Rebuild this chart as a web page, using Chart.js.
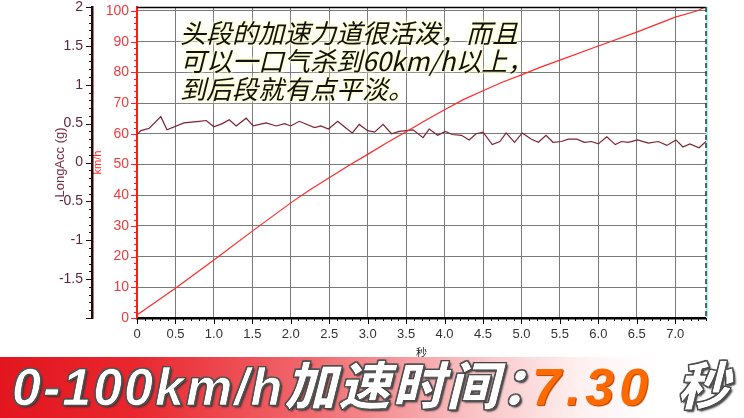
<!DOCTYPE html>
<html><head><meta charset="utf-8">
<script src="https://cdn.jsdelivr.net/npm/chart.js@4/dist/chart.umd.min.js"></script>
<style>
html,body{margin:0;padding:0;background:#fff;}
#wrap{position:relative;width:744px;height:418px;overflow:hidden;background:#fff;}
#c{position:absolute;left:0;top:0;}
#note{position:absolute;left:180px;top:18px;font-family:"Noto Sans CJK SC",sans-serif;font-size:26px;line-height:28px;color:#111;font-style:italic;white-space:nowrap;
 text-shadow:0 0 3px #ffffc8,0 0 3px #ffffc8,0 0 6px #ffffd8,0 0 6px #ffffd8;}
#banner{position:absolute;left:0;top:357px;width:744px;height:61px;
 background:linear-gradient(to right,#e3161f 0%,#e9262e 18%,#f06a6f 42%,#f9c4c6 64%,#fff0f0 78%,#ffffff 88%);}
.bt{position:absolute;top:0;height:61px;line-height:61px;font-family:"Liberation Sans","Noto Sans CJK SC",sans-serif;font-weight:900;font-style:italic;font-size:52px;white-space:nowrap;}
.w{color:#fff;-webkit-text-stroke:0.7px #333;text-shadow:-1px -1px 0 #555,1px -1px 0 #555,-1px 1px 0 #555,1px 1px 0 #555,2px 2px 2px #333;letter-spacing:2px;}
.o{color:#ff6a00;letter-spacing:5px;text-shadow:1px 1px 1px #b04000;}
</style></head>
<body>
<div id="wrap">
<canvas id="c" width="744" height="418"></canvas>
<div id="note">头段的加速力道很活泼，而且<br>可以一口气杀到60km/h以上，<br>到后段就有点平淡。</div>
<div id="banner">
 <span class="bt w" style="left:12px;">0-100km/h加速时间：</span>
 <span class="bt o" style="left:532px;">7.30</span>
 <span class="bt w" style="left:677px;">秒</span>
</div>
</div>
<script>
// ---- data ----
const timeSpeed = [0, 0.5, 1.0, 1.5, 2.0, 2.25, 2.5, 2.75, 3.0, 3.25, 3.5, 3.75, 4.0, 4.25, 4.5, 4.75, 5.0, 5.25, 5.5, 6.0, 6.5, 7.0, 7.28, 7.39];
const speedKmh  = [1.0, 9.7, 18.9, 28.3, 37.5, 41.8, 45.7, 49.6, 53.3, 57.1, 60.7, 64.3, 67.8, 71.2, 74.0, 76.8, 79.2, 81.7, 84.0, 88.6, 93.1, 98.0, 100.0, 101.3];

const timeAcc = [0, 0.05, 0.16, 0.31, 0.39, 0.61, 0.81, 0.90, 1.00, 1.11, 1.20, 1.29, 1.42, 1.51, 1.68, 1.81, 1.92, 2.00,
  2.11, 2.31, 2.39, 2.49, 2.61, 2.72, 2.80, 2.89, 3.00, 3.09, 3.20, 3.31, 3.41, 3.59, 3.72, 3.80, 3.91, 4.01, 4.10, 4.22,
  4.32, 4.41, 4.50, 4.62, 4.72, 4.80, 4.91, 5.01, 5.13, 5.22, 5.32, 5.41, 5.52, 5.61, 5.72, 5.82, 5.91, 6.00, 6.11, 6.22,
  6.30, 6.39, 6.51, 6.65, 6.78, 6.89, 7.01, 7.10, 7.19, 7.31, 7.40];
const longAccG = [0.36, 0.41, 0.44, 0.59, 0.42, 0.51, 0.53, 0.54, 0.46, 0.50, 0.55, 0.47, 0.57, 0.47, 0.51, 0.47, 0.50, 0.47,
  0.53, 0.45, 0.47, 0.43, 0.53, 0.44, 0.38, 0.49, 0.41, 0.39, 0.49, 0.37, 0.40, 0.42, 0.32, 0.43, 0.35, 0.40, 0.36, 0.35,
  0.29, 0.37, 0.39, 0.23, 0.27, 0.38, 0.26, 0.38, 0.30, 0.26, 0.35, 0.26, 0.27, 0.30, 0.30, 0.26, 0.27, 0.24, 0.33, 0.23,
  0.27, 0.26, 0.29, 0.25, 0.27, 0.22, 0.29, 0.20, 0.24, 0.19, 0.27];

const timeRange = [0, 7.4];
const speedRange = [0, 101.3];
const accRange = [-2, 2];

const speedPts = timeSpeed.map((t, i) => ({x: t, y: speedKmh[i]}));
const accPts = timeAcc.map((t, i) => ({x: t, y: longAccG[i]}));

const tickPlugin = {
  id: 'tickPlugin',
  afterDraw(chart) {
    const ctx = chart.ctx, ca = chart.chartArea;
    const sx = chart.scales.x, sv = chart.scales.y, sg = chart.scales.y1;
    ctx.save();
    // top border
    ctx.strokeStyle = '#000'; ctx.lineWidth = 1.5;
    ctx.beginPath(); ctx.moveTo(ca.left, ca.top + 0.5); ctx.lineTo(ca.right, ca.top + 0.5); ctx.stroke();
    // right border
    ctx.strokeStyle = '#9ff3f3'; ctx.lineWidth = 2;
    ctx.beginPath(); ctx.moveTo(ca.right + 1, ca.top); ctx.lineTo(ca.right + 1, ca.bottom); ctx.stroke();
    ctx.strokeStyle = '#333'; ctx.lineWidth = 1.5; ctx.setLineDash([5, 3]);
    ctx.beginPath(); ctx.moveTo(ca.right, ca.top); ctx.lineTo(ca.right, ca.bottom); ctx.stroke();
    ctx.setLineDash([]);
    // x ticks
    ctx.strokeStyle = '#000'; ctx.lineWidth = 1;
    for (let i = 0; i <= 74; i++) {
      const px = Math.round(sx.getPixelForValue(i / 10)) + 0.5;
      const len = (i % 5 === 0) ? 6 : 3;
      ctx.beginPath(); ctx.moveTo(px, ca.bottom); ctx.lineTo(px, ca.bottom + len); ctx.stroke();
    }
    // speed ticks
    ctx.strokeStyle = '#ff2020';
    for (let v = 0; v <= 100; v += 2) {
      const py = Math.round(sv.getPixelForValue(v)) + 0.5;
      const len = (v % 10 === 0) ? 6 : 3;
      ctx.beginPath(); ctx.moveTo(ca.left, py); ctx.lineTo(ca.left - len, py); ctx.stroke();
    }
    // g ticks
    ctx.strokeStyle = '#2a0505';
    const gx = sg.right;
    for (let i = -20; i <= 20; i++) {
      const py = Math.round(sg.getPixelForValue(i / 10)) + 0.5;
      const len = (i % 5 === 0) ? 6 : 3;
      ctx.beginPath(); ctx.moveTo(gx, py); ctx.lineTo(gx - len, py); ctx.stroke();
    }
    ctx.restore();
  }
};

Chart.defaults.font.family = '"Liberation Sans", Arial, sans-serif';
const clear = 'rgba(0,0,0,0)';

new Chart(document.getElementById('c'), {
  type: 'line',
  data: {
    datasets: [
      {label: 'km/h', data: speedPts, yAxisID: 'y', borderColor: '#ff2a2a', borderWidth: 1.2, pointRadius: 0, tension: 0},
      {label: 'LongAcc (g)', data: accPts, yAxisID: 'y1', borderColor: '#7e2232', borderWidth: 1.2, pointRadius: 0, tension: 0}
    ]
  },
  options: {
    responsive: false, animation: false, devicePixelRatio: 1,
    layout: {padding: {left: 0, top: 0, right: 38, bottom: 55}},
    plugins: {legend: {display: false}, tooltip: {enabled: false}},
    scales: {
      x: {
        type: 'linear', min: timeRange[0], max: timeRange[1],
        ticks: {stepSize: 0.5, includeBounds: false, padding: 0, color: '#333', font: {size: 13}, maxRotation: 0},
        grid: {color: '#7a7a7a', borderDash: [4, 3], lineWidth: 1, drawTicks: true, tickLength: 9, tickColor: clear},
        border: {color: '#000', width: 2.5},
        title: {display: true, text: '秒', color: '#222', font: {size: 11, family: '"Noto Sans CJK SC"'}, padding: {top: 0, bottom: 4}},
        afterFit(s) { s.height = 45; }
      },
      y: {
        type: 'linear', position: 'left', weight: 0, min: speedRange[0], max: speedRange[1],
        ticks: {stepSize: 10, includeBounds: false, padding: 0, color: '#f23a3a', font: {size: 14, lineHeight: 1}},
        grid: {color: (c) => c.tick && c.tick.value === 0 ? clear : '#7a7a7a', borderDash: [4, 3], lineWidth: 1,
          drawTicks: true, tickLength: 8, tickColor: clear},
        border: {color: '#ff1a1a', width: 2},
        title: {display: true, text: 'km/h', color: '#ff2a2a', font: {size: 11, lineHeight: 1}, padding: {top: 0, bottom: 0}},
        afterFit(s) { s.width = 45; }
      },
      y1: {
        type: 'linear', position: 'left', weight: 1, min: accRange[0], max: accRange[1],
        ticks: {stepSize: 0.5, padding: 0, color: '#5b2740', font: {size: 14, lineHeight: 1},
          callback: (v) => v === -2 ? '' : String(v)},
        grid: {drawOnChartArea: false, drawTicks: true, tickLength: 9, tickColor: clear},
        border: {color: '#2a0505', width: 2.5},
        title: {display: true, text: 'LongAcc (g)', color: '#7a2a3c', font: {size: 13}, padding: {top: 53, bottom: 0}},
        afterFit(s) { s.width = 92; }
      }
    }
  },
  plugins: [tickPlugin]
});
</script>
</body></html>
